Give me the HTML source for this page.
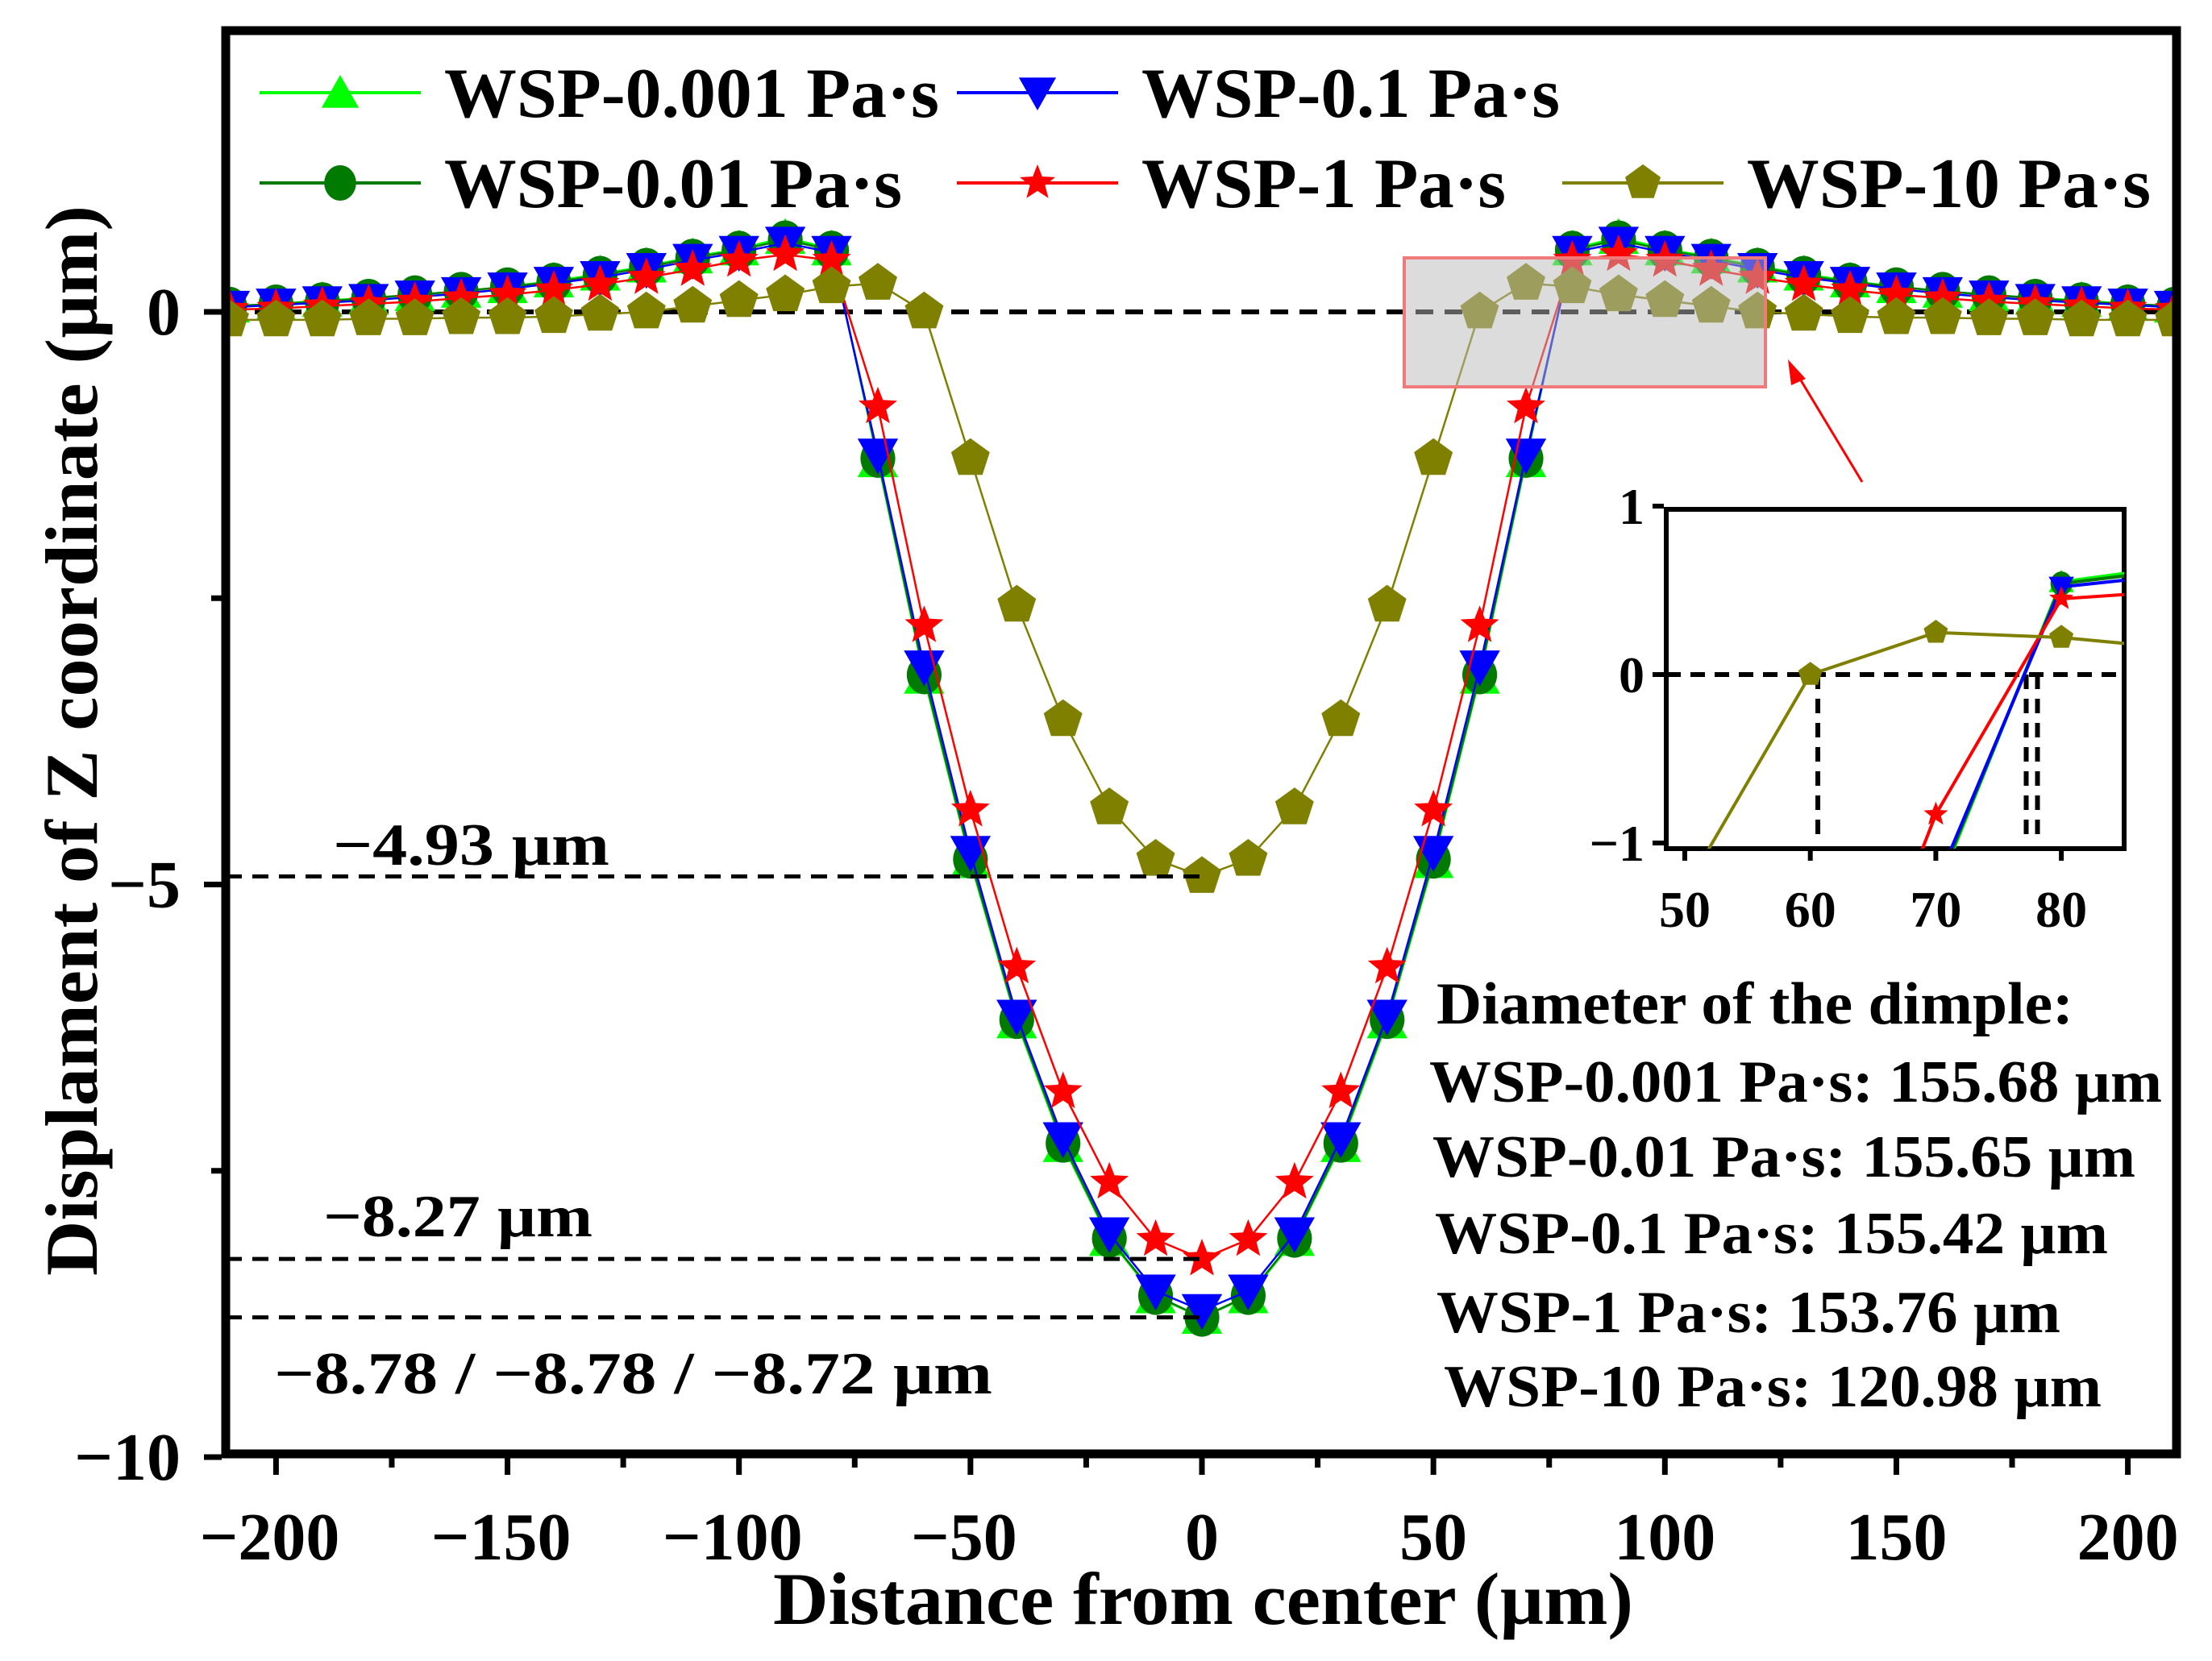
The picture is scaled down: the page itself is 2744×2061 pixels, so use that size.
<!DOCTYPE html>
<html><head><meta charset="utf-8">
<style>
html,body{margin:0;padding:0;background:#fff;width:2744px;height:2061px;overflow:hidden}
svg{display:block}
text{font-family:"Liberation Serif",serif;font-weight:bold;fill:#000}
</style></head>
<body>
<svg id="chart" width="2744" height="2061" viewBox="0 0 2744 2061" xmlns="http://www.w3.org/2000/svg">
<defs>
<clipPath id="mainClip"><rect x="280" y="38" width="2420" height="1766"/></clipPath>
<clipPath id="insetClip"><rect x="2067" y="632" width="568" height="421"/></clipPath>
</defs>
<g id="gridLayer"></g>
<g id="seriesLayer" clip-path="url(#mainClip)"></g>
<g id="overlayLayer"></g>
<g id="insetLayer"></g>
<g id="textLayer"></g>
</svg>
<script>
const xValues = [-210,-200,-190,-180,-170,-160,-150,-140,-130,-120,-110,-100,-90,-80,-70,-60,-50,-40,-30,-20,-10,0,10,20,30,40,50,60,70,80,90,100,110,120,130,140,150,160,170,180,190,200,210];
const wsp0001 = [0.05,0.07,0.1,0.12,0.15,0.18,0.22,0.27,0.33,0.4,0.48,0.55,0.65,0.55,-1.3,-3.19,-4.8,-6.2,-7.28,-8.1,-8.6,-8.78,-8.6,-8.1,-7.28,-6.2,-4.8,-3.19,-1.3,0.55,0.65,0.55,0.48,0.4,0.33,0.27,0.22,0.18,0.15,0.12,0.1,0.07,0.05];
const wsp001 = [0.05,0.07,0.09,0.12,0.15,0.18,0.22,0.26,0.32,0.39,0.47,0.54,0.63,0.54,-1.28,-3.17,-4.78,-6.18,-7.26,-8.09,-8.59,-8.78,-8.59,-8.09,-7.26,-6.18,-4.78,-3.17,-1.28,0.54,0.63,0.54,0.47,0.39,0.32,0.26,0.22,0.18,0.15,0.12,0.09,0.07,0.05];
const wsp01 = [0.04,0.06,0.08,0.1,0.13,0.16,0.2,0.25,0.3,0.37,0.45,0.52,0.6,0.52,-1.25,-3.1,-4.72,-6.15,-7.22,-8.05,-8.55,-8.72,-8.55,-8.05,-7.22,-6.15,-4.72,-3.1,-1.25,0.52,0.6,0.52,0.45,0.37,0.3,0.25,0.2,0.16,0.13,0.1,0.08,0.06,0.04];
const wsp1 = [0.02,0.03,0.05,0.07,0.09,0.12,0.15,0.19,0.24,0.3,0.37,0.45,0.5,0.45,-0.83,-2.74,-4.35,-5.72,-6.81,-7.6,-8.1,-8.27,-8.1,-7.6,-6.81,-5.72,-4.35,-2.74,-0.83,0.45,0.5,0.45,0.37,0.3,0.24,0.19,0.15,0.12,0.09,0.07,0.05,0.03,0.02];
const wsp10 = [-0.07,-0.07,-0.07,-0.06,-0.06,-0.05,-0.05,-0.04,-0.02,0.0,0.05,0.1,0.15,0.22,0.25,0.0,-1.28,-2.56,-3.56,-4.33,-4.78,-4.93,-4.78,-4.33,-3.56,-2.56,-1.28,0.0,0.25,0.22,0.15,0.1,0.05,0.0,-0.02,-0.04,-0.05,-0.05,-0.06,-0.06,-0.07,-0.07,-0.07];
const xTicks = [-200,-150,-100,-50,0,50,100,150,200];
const xTickLabels = ["\u2212200","\u2212150","\u2212100","\u221250","0","50","100","150","200"];
const yTicks = [0,-5,-10];
const yTickLabels = ["0","\u22125","\u221210"];
const insetXTicks = [50,60,70,80];
const insetYTicks = [1,0,-1];
const insetYLabels = ["1","0","\u22121"];
const refLevels = [-4.93,-8.27,-8.78];
const insetCrossings = [60.6,77.2,78.1];

const NS="http://www.w3.org/2000/svg";
function mk(tag,attrs,parent){const e=document.createElementNS(NS,tag);for(const k in attrs)e.setAttribute(k,attrs[k]);parent.appendChild(e);return e;}
const xS=v=>1491+v*5.743;
const yS=v=>387-v*142.1;
const xI=v=>2090+(v-50)*15.57;
const yI=v=>837-v*209;

const grid=document.getElementById('gridLayer');
const series=document.getElementById('seriesLayer');
const over=document.getElementById('overlayLayer');
const inset=document.getElementById('insetLayer');
const txt=document.getElementById('textLayer');

function marker(type,cx,cy,color,parent,s){
  s=s||24;let e;
  if(type==='tri'){e=mk('polygon',{points:`${cx},${cy-s} ${cx+s*1.05},${cy+s*0.85} ${cx-s*1.05},${cy+s*0.85}`,fill:color},parent);}
  else if(type==='circ'){e=mk('ellipse',{cx:cx,cy:cy,rx:s*0.9,ry:s,fill:color},parent);}
  else if(type==='itri'){e=mk('polygon',{points:`${cx-s*1.05},${cy-s*0.85} ${cx+s*1.05},${cy-s*0.85} ${cx},${cy+s}`,fill:color},parent);}
  else if(type==='star'){let p=[];for(let i=0;i<10;i++){const r=i%2?s*0.45:s*1.05;const a=-Math.PI/2+i*Math.PI/5;p.push((cx+r*Math.cos(a)).toFixed(1)+','+(cy+r*Math.sin(a)).toFixed(1));}e=mk('polygon',{points:p.join(' '),fill:color},parent);}
  else {let p=[];for(let i=0;i<5;i++){const a=-Math.PI/2+i*2*Math.PI/5;p.push((cx+s*1.05*Math.cos(a)).toFixed(1)+','+(cy+s*1.05*Math.sin(a)).toFixed(1));}e=mk('polygon',{points:p.join(' '),fill:color},parent);}
  return e;
}

const seriesDefs=[
  {data:wsp0001,color:'#00ff00',m:'tri',name:'wsp-0.001'},
  {data:wsp001,color:'#007a00',m:'circ',name:'wsp-0.01'},
  {data:wsp01,color:'#0000ff',m:'itri',name:'wsp-0.1'},
  {data:wsp1,color:'#ff0000',m:'star',name:'wsp-1'},
  {data:wsp10,color:'#808000',m:'pent',name:'wsp-10'}
];

const zl=mk('line',{x1:280,x2:2700,y1:yS(0),y2:yS(0),stroke:'#000','stroke-width':6,'stroke-dasharray':'22 14'},grid);



seriesDefs.forEach(sd=>{
  const g=mk('g',{},series);
  
  
  const pts=xValues.map((x,i)=>xS(x).toFixed(1)+','+yS(sd.data[i]).toFixed(1)).join(' ');
  const pl=mk('polyline',{points:pts,fill:'none',stroke:sd.color,'stroke-width':2.5},g);
  
  
  xValues.forEach((x,i)=>{
    const m=marker(sd.m,xS(x),yS(sd.data[i]),sd.color,g);
    
    
  });
});

refLevels.forEach(v=>{
  const l=mk('line',{x1:280,x2:xS(0),y1:yS(v),y2:yS(v),stroke:'#000','stroke-width':5,'stroke-dasharray':'20 13'},over);
  
  
});

const zb=mk('rect',{x:1742,y:320,width:448,height:160,fill:'rgba(185,185,185,0.5)',stroke:'#f07a7a','stroke-width':4},over);


const ar=mk('line',{x1:2310,y1:598,x2:2228,y2:462,stroke:'#ff0000','stroke-width':3},over);


const ah=mk('polygon',{points:'2218,446 2240,470 2222,478',fill:'#ff0000'},over);



const fr=mk('rect',{x:280,y:38,width:2420,height:1766,fill:'none',stroke:'#000','stroke-width':11},grid.parentNode);


const axes=mk('g',{},txt);


for(let v=-200;v<=200;v+=25){
  const major=v%50===0;
  mk('line',{x1:xS(v),x2:xS(v),y1:1808,y2:1808+(major?22:13),stroke:'#000','stroke-width':7},axes);
}
xTicks.forEach((v,i)=>{
  const t=mk('text',{x:xS(v)+(v<0?-8:0),y:1935,'font-size':84,'text-anchor':'middle'},axes);
  t.textContent=xTickLabels[i];
  
  
});
for(let v=0;v>=-10;v-=2.5){
  const major=v%5===0;
  mk('line',{x1:275,x2:275-(major?22:13),y1:yS(v),y2:yS(v),stroke:'#000','stroke-width':7},axes);
}
yTicks.forEach((v,i)=>{
  const t=mk('text',{x:224,y:yS(v)+28,'font-size':84,'text-anchor':'end'},axes);
  t.textContent=yTickLabels[i];
  
  
});

const ib=mk('rect',{x:2067,y:632,width:568,height:421,fill:'#fff',stroke:'#000','stroke-width':6},inset);


const ic=mk('g',{'clip-path':'url(#insetClip)'},inset);


const iz=mk('line',{x1:2067,x2:2635,y1:yI(0),y2:yI(0),stroke:'#000','stroke-width':6,'stroke-dasharray':'18 12'},ic);


insetCrossings.forEach(v=>{
  const l=mk('line',{x1:xI(v),x2:xI(v),y1:yI(0),y2:yI(-1),stroke:'#000','stroke-width':6,'stroke-dasharray':'18 12'},ic);
  
  
});
seriesDefs.forEach(sd=>{
  const pts=xValues.map((x,i)=>xI(x).toFixed(1)+','+yI(sd.data[i]).toFixed(1)).join(' ');
  const pl=mk('polyline',{points:pts,fill:'none',stroke:sd.color,'stroke-width':4},ic);
  
  
  xValues.forEach((x,i)=>{
    if(x>=40&&x<=90){
      const m=marker(sd.m,xI(x),yI(sd.data[i]),sd.color,ic,15);
      
      
    }
  });
});
insetXTicks.forEach(v=>{
  mk('line',{x1:xI(v),x2:xI(v),y1:1053,y2:1068,stroke:'#000','stroke-width':6},inset);
  const t=mk('text',{x:xI(v),y:1150,'font-size':64,'text-anchor':'middle'},inset);
  t.textContent=String(v);
  
  
});
insetYTicks.forEach((v,i)=>{
  mk('line',{x1:2064,x2:2050,y1:yI(v),y2:yI(v),stroke:'#000','stroke-width':6},inset);
  const t=mk('text',{x:2040,y:yI(v)+22,'font-size':64,'text-anchor':'end'},inset);
  t.textContent=insetYLabels[i];
  
  
});

const legend=[
  {i:0,lx:322,ly:115,tx:551,tl:614,label:'WSP-0.001 Pa\u00b7s'},
  {i:2,lx:1187,ly:115,tx:1416,tl:519,label:'WSP-0.1 Pa\u00b7s'},
  {i:1,lx:322,ly:227,tx:551,tl:568,label:'WSP-0.01 Pa\u00b7s'},
  {i:3,lx:1187,ly:227,tx:1416,tl:452,label:'WSP-1 Pa\u00b7s'},
  {i:4,lx:1938,ly:227,tx:2167,tl:501,label:'WSP-10 Pa\u00b7s'}
];
legend.forEach(L=>{
  const sd=seriesDefs[L.i];
  const g=mk('g',{},txt);
  
  
  mk('line',{x1:L.lx,x2:L.lx+200,y1:L.ly,y2:L.ly,stroke:sd.color,'stroke-width':4},g);
  marker(sd.m,L.lx+100,L.ly,sd.color,g,22);
  const t=mk('text',{x:L.tx,y:L.ly+30,'font-size':88,textLength:L.tl,lengthAdjust:'spacingAndGlyphs'},g);
  t.textContent=L.label;
});

const ann=[
  ['\u22124.93 \u00b5m',413,1073,343,'depth-label-10'],
  ['\u22128.27 \u00b5m',401,1534,334,'depth-label-1'],
  ['\u22128.78 / \u22128.78 / \u22128.72 \u00b5m',340,1729,891,'depth-label-low'],
  ['Diameter of the dimple:',1782,1270,790,'diameter-title'],
  ['WSP-0.001 Pa\u00b7s: 155.68 \u00b5m',1773,1367,909,'diameter-0.001'],
  ['WSP-0.01 Pa\u00b7s: 155.65 \u00b5m',1777,1460,872,'diameter-0.01'],
  ['WSP-0.1 Pa\u00b7s: 155.42 \u00b5m',1780,1555,835,'diameter-0.1'],
  ['WSP-1 Pa\u00b7s: 153.76 \u00b5m',1782,1653,774,'diameter-1'],
  ['WSP-10 Pa\u00b7s: 120.98 \u00b5m',1791,1745,816,'diameter-10']
];
ann.forEach(a=>{
  const t=mk('text',{x:a[1],y:a[2],'font-size':74,textLength:a[3],lengthAdjust:'spacingAndGlyphs'},txt);
  t.textContent=a[0];
  
  
});

const xt=mk('text',{x:959,y:2015,'font-size':92,textLength:1067,lengthAdjust:'spacingAndGlyphs'},txt);
xt.textContent='Distance from center (\u00b5m)';


const yt=mk('text',{x:0,y:0,'font-size':92,textLength:1328,lengthAdjust:'spacingAndGlyphs','text-anchor':'middle',transform:'translate(120,919) rotate(-90)'},txt);
yt.textContent='Displament of Z coordinate (\u00b5m)';


</script>
</body></html>
